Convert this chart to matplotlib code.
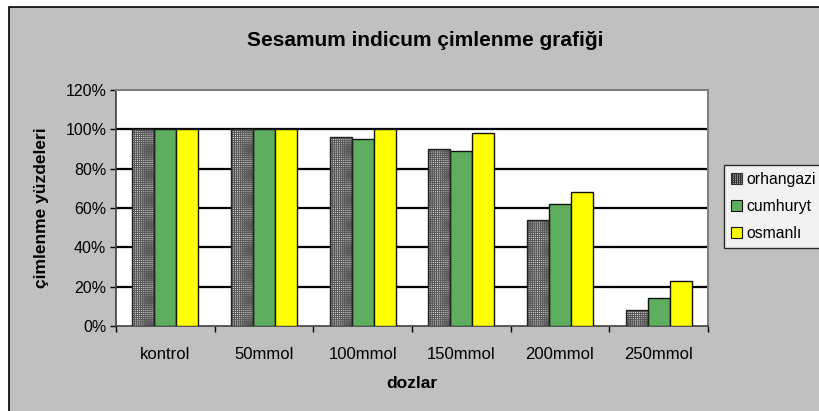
import numpy as np
import matplotlib.pyplot as plt
from matplotlib.patches import Rectangle
from matplotlib.ticker import FixedLocator, PercentFormatter

plt.rcParams['font.family'] = ['Liberation Sans', 'DejaVu Sans']
plt.rcParams['hatch.linewidth'] = 0.8

categories = ["kontrol", "50mmol", "100mmol", "150mmol", "200mmol", "250mmol"]
series = ["orhangazi", "cumhuryt", "osmanlı"]
orhangazi = [100, 100, 96, 90, 54, 8]
cumhuryt = [100, 100, 95, 89, 62, 14]
osmanli = [100, 100, 100, 98, 68, 23]
values = [orhangazi, cumhuryt, osmanli]

GREY = "#c0c0c0"
fig = plt.figure(figsize=(8.19, 4.11), dpi=100)
fig.patch.set_facecolor("white")
# chart area (grey with a black frame), offset from the top-left edge
fig.patches.append(Rectangle((9 / 819, -0.01), 1.02, 1 - 7 / 411 + 0.01,
                             transform=fig.transFigure, facecolor=GREY,
                             edgecolor="black", linewidth=1.2, zorder=-10))

ax = fig.add_axes([116 / 819, 85 / 411, 592 / 819, 236 / 411])
ax.set_facecolor("white")

x = np.arange(len(categories))
w = 0.222
HATCH = "++++++++"
handles = []
for i, (name, vals) in enumerate(zip(series, values)):
    pos = x + (i - 1) * w
    if i == 0:
        ax.bar(pos, vals, w, facecolor="#e8e8e8", edgecolor="#5a5a5a",
               hatch=HATCH, linewidth=0, zorder=3)
        ax.bar(pos, vals, w, fill=False, edgecolor="#222222",
               linewidth=1.0, zorder=4)
        h = Rectangle((0, 0), 1, 1, facecolor="#e8e8e8", edgecolor="#333333",
                      hatch=HATCH, linewidth=0.8)
    else:
        color = "#5fae5f" if i == 1 else "#ffff00"
        ax.bar(pos, vals, w, color=color, edgecolor="#111111",
               linewidth=1.0, zorder=3)
        h = Rectangle((0, 0), 1, 1, facecolor=color, edgecolor="#111111",
                      linewidth=0.8)
    handles.append(h)

ax.set_xlim(-0.5, len(categories) - 0.5)
ax.set_ylim(0, 120)
ax.yaxis.set_major_locator(FixedLocator([0, 20, 40, 60, 80, 100, 120]))
ax.yaxis.set_major_formatter(PercentFormatter(decimals=0))
for yv in [20, 40, 60, 80, 100]:
    ax.axhline(yv, color="black", linewidth=1.6, zorder=1)

ax.xaxis.set_major_locator(FixedLocator(np.arange(-0.5, len(categories), 1)))
ax.xaxis.set_major_formatter(plt.NullFormatter())
ax.xaxis.set_minor_locator(FixedLocator(x))
ax.set_xticklabels(categories, minor=True)
ax.tick_params(axis="x", which="major", length=4, width=1, color="black")
ax.tick_params(axis="x", which="minor", length=0, pad=15, labelsize=12)
ax.tick_params(axis="y", length=4, width=1, color="black", pad=3,
               labelsize=11.5)

for side in ["top", "right"]:
    ax.spines[side].set_color("#808080")
    ax.spines[side].set_linewidth(1.5)
ax.spines["left"].set_color("#404040")
ax.spines["bottom"].set_color("#404040")
ax.spines["left"].set_linewidth(1.2)
ax.spines["bottom"].set_linewidth(1.2)

ax.set_xlabel("dozlar", fontsize=12.5, fontweight="bold", labelpad=10)
ax.set_ylabel("çimlenme yüzdeleri", fontsize=12.5, fontweight="bold",
              labelpad=12)
fig.text(425 / 819, 1 - 40 / 411, "Sesamum indicum çimlenme grafiği",
         ha="center", va="center", fontsize=15, fontweight="bold")

leg = fig.legend(handles, series, loc="upper left",
                 bbox_to_anchor=(724 / 819, 1 - 165 / 411),
                 fontsize=11.3, frameon=True, fancybox=False,
                 handlelength=0.7, handleheight=0.7, handletextpad=0.3,
                 borderpad=0.45, labelspacing=0.75, borderaxespad=0)
leg.get_frame().set_edgecolor("black")
leg.get_frame().set_linewidth(1.0)

fig.savefig("out.png", dpi=100, facecolor=fig.get_facecolor())
